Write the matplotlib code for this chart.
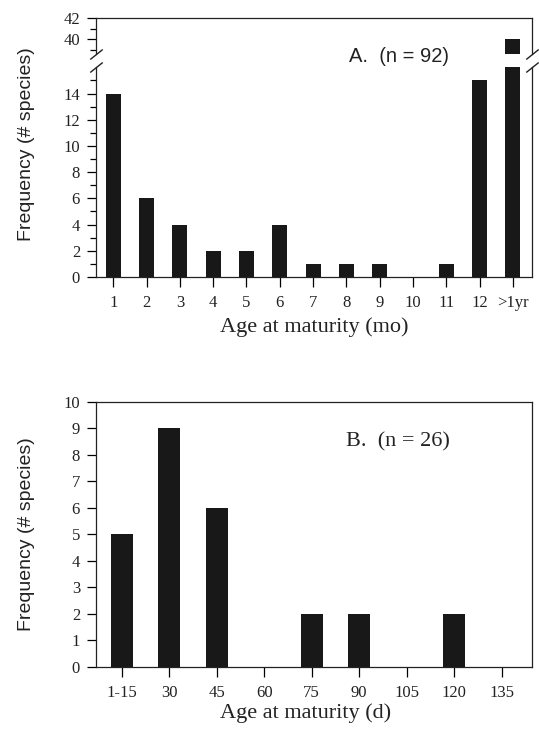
import matplotlib.pyplot as plt
from matplotlib.ticker import MultipleLocator

# panel A: age at maturity in months
months = ["1", "2", "3", "4", "5", "6", "7", "8", "9", "10", "11", "12", ">1yr"]
freq_mo = [14, 6, 4, 2, 2, 4, 1, 1, 1, 0, 1, 15, 40]

# panel B: age at maturity in days
days = ["1-15", "30", "45", "60", "75", "90", "105", "120", "135"]
freq_d = [5, 9, 6, 0, 2, 2, 0, 2, 0]

SERIF = "Liberation Serif"
SANS = "Liberation Sans"
BAR = "#181818"
W, H = 539, 734

fig = plt.figure(figsize=(W / 100, H / 100), dpi=100)


def fx(px):
    return px / W


def fy(py):
    return 1 - py / H


left, right = 96, 531.5
ax_top = fig.add_axes([fx(left), fy(54.3), fx(right - left), fy(18) - fy(54.3)])
ax_low = fig.add_axes([fx(left), fy(277), fx(right - left), fy(66.7) - fy(277)])
ax_b = fig.add_axes([fx(left), fy(667), fx(right - left), fy(401.7) - fy(667)])

x_mo = range(len(months))
for ax in (ax_top, ax_low):
    ax.bar(x_mo, freq_mo, width=0.45, color=BAR)
    ax.set_xlim(-0.52, 12.56)

ax_top.set_ylim(38.57, 42)
ax_low.set_ylim(0, 16.05)

ax_top.spines["bottom"].set_visible(False)
ax_low.spines["top"].set_visible(False)
ax_top.tick_params(axis="x", which="both", bottom=False, labelbottom=False)

ax_top.yaxis.set_major_locator(MultipleLocator(2))
ax_top.yaxis.set_minor_locator(MultipleLocator(1))
ax_low.set_yticks(range(0, 15, 2))
ax_low.set_yticks(range(1, 16, 2), minor=True)

ax_low.set_xticks(list(x_mo))
ax_low.set_xticklabels(months)

ax_b.bar(range(len(days)), freq_d, width=0.46, color=BAR)
ax_b.set_xlim(-0.54, 8.63)
ax_b.set_ylim(0, 10)
ax_b.set_yticks(range(0, 11))
ax_b.set_xticks(range(len(days)))
ax_b.set_xticklabels(days)

for ax in (ax_top, ax_low, ax_b):
    for s in ax.spines.values():
        s.set_linewidth(0.9)
        s.set_color("#222222")
    ax.tick_params(axis="y", which="major", direction="out", length=6.5, width=0.9, pad=5)
    ax.tick_params(axis="y", which="minor", direction="out", length=4, width=0.9)
    ax.tick_params(axis="x", direction="out", length=7, width=0.9, pad=6)
    for lab in ax.get_xticklabels() + ax.get_yticklabels():
        lab.set_fontfamily(SERIF)
        lab.set_fontsize(12)
        lab.set_color("#222222")

# break marks on both sides of panel A
kw = dict(marker=[(-1, -0.8), (1, 0.8)], markersize=9, linestyle="none",
          color="#222222", mec="#222222", mew=1, clip_on=False)
ax_top.plot([0, 1], [0, 0], transform=ax_top.transAxes, **kw)
ax_low.plot([0, 1], [1, 1], transform=ax_low.transAxes, **kw)

# texts
fig.text(fx(399), fy(57), "A.  (n = 92)", family=SANS, fontsize=14.5,
         ha="center", va="center", color="#222222")
fig.text(fx(398), fy(442), "B.  (n = 26)", family=SERIF, fontsize=16,
         ha="center", va="center", color="#222222")

fig.text(fx(314), fy(327), "Age at maturity (mo)", family=SERIF, fontsize=16,
         ha="center", va="center", color="#222222")
fig.text(fx(306), fy(713), "Age at maturity (d)", family=SERIF, fontsize=16,
         ha="center", va="center", color="#222222")

fig.text(fx(27), fy(144), "Frequency (# species)", family=SANS, fontsize=14,
         rotation=90, ha="center", va="center", color="#222222")
fig.text(fx(27), fy(534), "Frequency (# species)", family=SANS, fontsize=14,
         rotation=90, ha="center", va="center", color="#222222")

fig.savefig("out.png", dpi=100)
